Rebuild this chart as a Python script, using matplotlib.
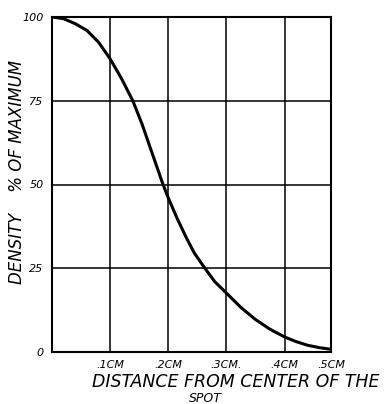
import matplotlib
matplotlib.use("Agg")
import matplotlib.pyplot as plt

# Data (x in cm, density in % of maximum)
distance_cm = [0, 0.02, 0.04, 0.06, 0.08, 0.10, 0.12, 0.139, 0.155, 0.171, 0.19,
               0.20, 0.215, 0.23, 0.245, 0.263, 0.28, 0.30, 0.325, 0.35, 0.375,
               0.40, 0.42, 0.44, 0.46, 0.48]
density_pct = [100, 99.5, 98, 96, 92.5, 87.5, 81.5, 75, 68, 60, 50.5,
               46, 40, 34.5, 29.5, 25, 21, 17.6, 13.3, 9.7, 6.8,
               4.5, 3.1, 2.0, 1.3, 0.8]

x_ticks = [0.1, 0.2, 0.3, 0.4, 0.48]
x_tick_labels = [".1CM", ".2CM", ".3CM.", ".4CM", ".5CM"]
y_ticks = [0, 25, 50, 75, 100]
y_tick_labels = ["0", "25", "50", "75", "100"]

fig = plt.figure(figsize=(3.92, 4.04), dpi=100)
W, H = 392, 404
ax = fig.add_axes([52 / W, (H - 352) / H, (331 - 52) / W, (352 - 17) / H])

ax.plot(distance_cm, density_pct, color="black", linewidth=2.2,
        solid_capstyle="round", solid_joinstyle="round")

ax.set_xlim(0, 0.48)
ax.set_ylim(0, 100)
ax.set_xticks(x_ticks)
ax.set_xticklabels(x_tick_labels, fontsize=8, style="italic")
ax.set_yticks(y_ticks)
ax.set_yticklabels(y_tick_labels, fontsize=8, style="italic")
ax.tick_params(length=0, pad=6)
ax.grid(True, color="black", linewidth=1.1)
for s in ax.spines.values():
    s.set_linewidth(1.5)
    s.set_color("black")

fig.text(17 / W, 1 - 172 / H, "DENSITY    % OF MAXIMUM", rotation=90,
         ha="center", va="center", fontsize=12, style="italic")
fig.text(236 / W, 1 - 382 / H, "DISTANCE FROM CENTER OF THE", ha="center",
         va="center", fontsize=12.5, style="italic")
fig.text(205 / W, 1 - 398 / H, "SPOT", ha="center", va="center",
         fontsize=9, style="italic")

fig.savefig("out.png", dpi=100)
